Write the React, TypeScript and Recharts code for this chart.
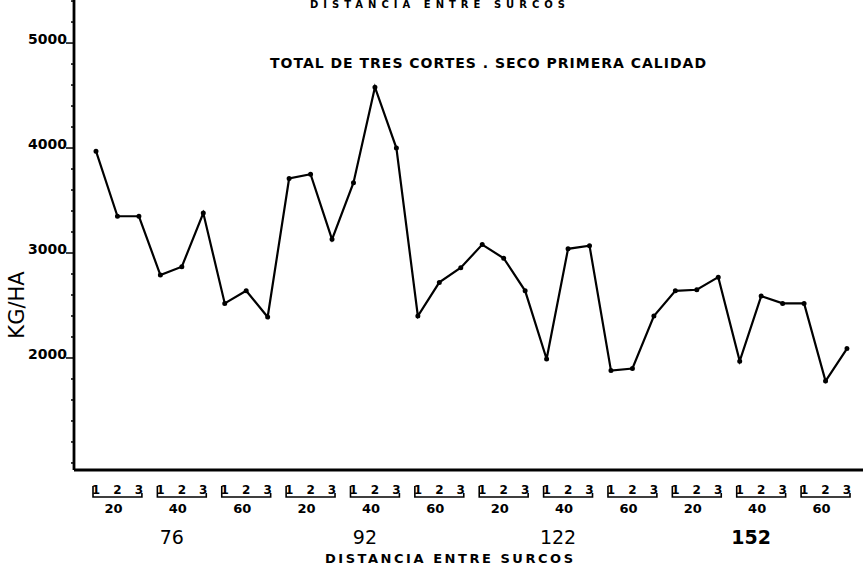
import { LineChart, Line, XAxis, YAxis } from "recharts";

// ensayo: distancia entre surcos (cm) x densidad x corte
const DISTANCIAS = ["76", "92", "122", "152"];
const DENSIDADES = ["20", "40", "60"];
const CORTES = ["1", "2", "3"];

// kg/ha, total de tres cortes, seco primera calidad
const RENDIMIENTO = [
  3970, 3350, 3350, 2790, 2870, 3380, 2520, 2640, 2390,
  3710, 3750, 3130, 3670, 4580, 4000, 2400, 2720, 2860,
  3080, 2950, 2640, 1990, 3040, 3070, 1880, 1900, 2400,
  2640, 2650, 2770, 1970, 2590, 2520, 2520, 1780, 2090,
];

const Y_MAJOR = [2000, 3000, 4000, 5000];
const Y_MINOR = [
  1000, 1200, 1400, 1600, 1800, 2200, 2400, 2600, 2800, 3200, 3400, 3600,
  3800, 4200, 4400, 4600, 4800, 5200, 5400,
];

const data = DISTANCIAS.flatMap((dist) =>
  DENSIDADES.flatMap((dens) =>
    CORTES.map((corte) => ({ key: `${dist}-${dens}-${corte}`, dist, dens, corte })),
  ),
).map((d, i) => ({ ...d, kg: RENDIMIENTO[i] }));

const W = 863;
const H = 572;
const LEFT = 74;
const PAD_L = 22;
const PAD_R = 16;
const STEP = (W - LEFT - PAD_L - PAD_R) / (data.length - 1);
const FONT = "'DejaVu Sans', sans-serif";

function XTick(props: any) {
  const { x, y, index } = props;
  const d = data[index];
  if (!d) return null;
  const pos = index % 3;
  const pos9 = index % 9;
  return (
    <g fontFamily={FONT} fill="#000">
      <text x={x} y={y + 16} textAnchor="middle" fontSize={12} fontWeight="bold">
        {d.corte}
      </text>
      {pos === 0 && (
        <path
          d={`M${x - 3},${y + 8} L${x - 3},${y + 19} L${x + 2 * STEP + 3},${y + 19} L${x + 2 * STEP + 3},${y + 15}`}
          stroke="#000"
          strokeWidth={1.6}
          fill="none"
        />
      )}
      {pos === 1 && (
        <text x={x - 4} y={y + 35} textAnchor="middle" fontSize={13} fontWeight="bold">
          {d.dens}
        </text>
      )}
      {pos9 === 4 && (
        <text
          x={x - 10}
          y={y + 66}
          textAnchor="middle"
          fontSize={19}
          fontWeight={d.dist === "152" ? "bold" : "normal"}
        >
          {d.dist}
        </text>
      )}
    </g>
  );
}

function YTick(props: any) {
  const { x, y, payload } = props;
  const major = Y_MAJOR.includes(payload.value);
  return (
    <g>
      <line x1={x - (major ? 8 : 3)} y1={y} x2={x} y2={y} stroke="#000" strokeWidth={1.5} />
      {major && (
        <text x={x - 7} y={y + 1} textAnchor="end" fontSize={14} fontWeight="bold" fontFamily={FONT} fill="#000">
          {payload.value}
        </text>
      )}
    </g>
  );
}

export default function App() {
  return (
    <div style={{ position: "absolute", left: 0, top: 0, width: W, height: H, background: "#fff" }}>
      <LineChart width={W} height={H} data={data} margin={{ top: 0, right: 0, bottom: 0, left: 0 }}>
        <XAxis
          dataKey="key"
          interval={0}
          height={102}
          padding={{ left: PAD_L, right: PAD_R }}
          axisLine={{ stroke: "#000", strokeWidth: 2.8 }}
          tickLine={false}
          tick={<XTick />}
        />
        <YAxis
          type="number"
          width={LEFT}
          domain={[933, 5410]}
          allowDataOverflow
          ticks={[...Y_MINOR, ...Y_MAJOR].sort((a, b) => a - b)}
          interval={0}
          tickSize={0}
          tickMargin={0}
          axisLine={{ stroke: "#000", strokeWidth: 2.8 }}
          tickLine={false}
          tick={<YTick />}
        />
        <Line
          type="linear"
          dataKey="kg"
          stroke="#000"
          strokeWidth={2.2}
          dot={{ r: 1.4, fill: "#000", stroke: "#000" }}
          isAnimationActive={false}
        />
      </LineChart>
      <svg
        width={W}
        height={H}
        style={{ position: "absolute", left: 0, top: 0, pointerEvents: "none", whiteSpace: "pre" }}
        fontFamily={FONT}
        fontWeight="bold"
        fill="#000"
      >
        <text x={310} y={8} fontSize={10} textLength={255} lengthAdjust="spacing">
          {"DISTANCIA    ENTRE    SURCOS"}
        </text>
        <text x={270} y={68} fontSize={14} textLength={436} lengthAdjust="spacing">
          {"TOTAL  DE  TRES  CORTES . SECO  PRIMERA  CALIDAD"}
        </text>
        <text x={325} y={563} fontSize={13} textLength={248} lengthAdjust="spacing">
          {"DISTANCIA    ENTRE    SURCOS"}
        </text>
        <text
          x={0}
          y={0}
          fontSize={21}
          fontWeight="normal"
          textAnchor="middle"
          transform="translate(24,305) rotate(-90)"
        >
          KG/HA
        </text>
      </svg>
    </div>
  );
}
